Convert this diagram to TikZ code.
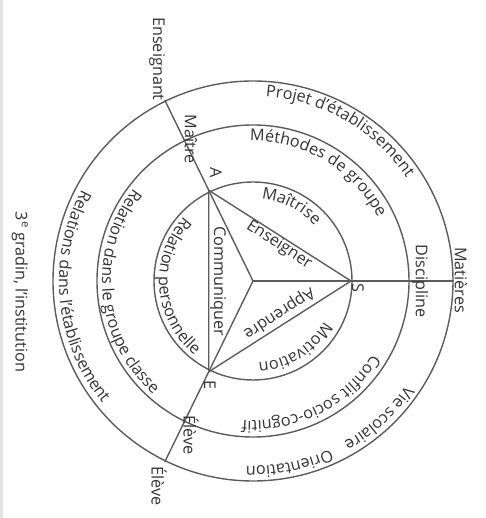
\documentclass[tikz,border=0pt]{standalone}
\usepackage{fontspec}
\usetikzlibrary{decorations.text}
\newfontfamily\dgfam{Open Sans}
\newcommand\dgf{\dgfam\fontsize{16.2}{19}\selectfont}
\definecolor{linec}{HTML}{5C5C5C}
\definecolor{txtc}{HTML}{333333}
\newcommand\ringtext[4]{\path[decorate,decoration={text along path,text align=center,text={|\dgf\color{txtc}|#4}}] (#2:#1pt) arc[start angle=#2,end angle=#3,radius=#1pt];}
\begin{document}
\begin{tikzpicture}[line cap=round,
  lbl/.style={font=\dgf, text=txtc, inner sep=0pt},
  ln/.style={draw=linec, line width=1.4pt}]
\useasboundingbox (-253pt,-237pt) rectangle (232pt,281pt);
\fill[black!10] (-253pt,-237pt) rectangle (-250pt,281pt);
\coordinate (O) at (0,0);
\coordinate (A) at (116:101pt);
\coordinate (S) at (0:98pt);
\coordinate (E) at (-116:101pt);
\coordinate (Ao) at (116:201pt);
\coordinate (So) at (0:200pt);
\coordinate (Eo) at (-116:201pt);
\draw[ln] (O) circle[radius=99pt];
\draw[ln] (O) circle[radius=156pt];
\draw[ln] (O) circle[radius=200pt];
\draw[ln] (O) -- (Ao);
\draw[ln] (O) -- (So);
\draw[ln] (O) -- (Eo);
\draw[ln] (A) -- (S) -- (E) -- cycle;
% ring texts
\ringtext{185}{120}{0}{Projet d’établissement}
\ringtext{140}{120}{-2}{Méthodes de groupe}
\ringtext{83}{110}{16}{Maîtrise}
\ringtext{185}{-5}{-90}{Vie scolaire}
\ringtext{185}{-40}{-117.5}{Orientation}
\ringtext{140}{-5}{-121}{Conflit socio-cognitif}
\ringtext{82}{-10}{-106}{Motivation}
\ringtext{194}{125}{246}{Relations dans l’établissement}
\ringtext{151}{125}{246}{Relation dans le groupe classe}
\ringtext{94}{120}{249}{Relation personnelle}
% vertex and edge labels
\node[lbl, rotate=-90] (lA) at (-37pt,108pt) {A};
\node[lbl, rotate=-90] (lS) at (105pt,-7pt) {S};
\node[lbl, rotate=-90] (lE) at (-43pt,-104pt) {E};
\node[lbl, rotate=-90] (lCom) at (-35pt,0pt) {Communiquer};
\node[lbl, rotate=-33] (lEns) at (26pt,36pt) {Enseigner};
\node[lbl, rotate=-147] (lApp) at (26pt,-32pt) {Apprendre};
\node[lbl, rotate=-90] (lMai) at (-62pt,142pt) {Maître};
\node[lbl, rotate=-90] (lEl1) at (-62pt,-154pt) {Élève};
\node[lbl, rotate=-90] (lEl2) at (-94pt,-205pt) {Élève};
\node[lbl, rotate=-90] (lEnsg) at (-96pt,222pt) {Enseignant};
\node[lbl, rotate=-90] (lMat) at (208pt,1pt) {Matières};
\node[lbl, rotate=-90] (lDis) at (167pt,0pt) {Discipline};
\node[lbl, rotate=-90] (lGrad) at (-233pt,-11pt) {3\textsuperscript{e} gradin, l’institution};
\end{tikzpicture}
\end{document}
